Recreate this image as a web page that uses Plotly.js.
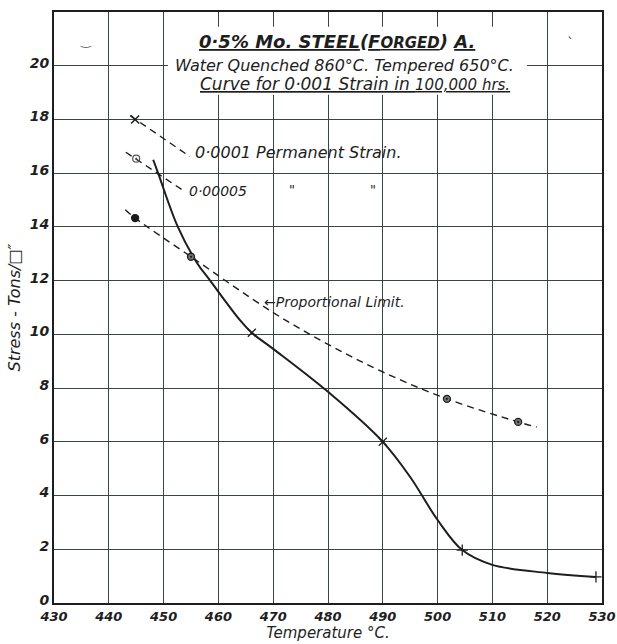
<!DOCTYPE html>
<html><head><meta charset="utf-8">
<script src="https://cdn.plot.ly/plotly-3.0.1.min.js"></script>
<style>html,body{margin:0;padding:0;background:#fff}#chart{width:617px;height:644px}</style>
</head><body><div id="chart"></div>
<script>
// Axis ticks
const xTicks = [430, 440, 450, 460, 470, 480, 490, 500, 510, 520, 530];
const yTicks = [0, 2, 4, 6, 8, 10, 12, 14, 16, 18, 20];

// Curve for 0.001 strain in 100,000 hrs (solid)
const creepTemp   = [448.1, 449.0, 452.6, 456.1, 458.5, 463.9, 466.1, 470.0, 480.0, 490.0, 495.0, 500.0, 504.5, 510.0, 520.0, 528.9];
const creepStress = [16.5, 16.0, 14.0, 12.66, 12.0, 10.54, 10.06, 9.46, 7.86, 6.0, 4.69, 3.09, 1.97, 1.42, 1.12, 0.97];
const creepMarkTemp   = [466.1, 490.0, 504.5, 528.9];
const creepMarkStress = [10.06, 6.0, 1.97, 0.97];

// Proportional limit (dashed)
const propTemp   = [443.0, 444.8, 455.0, 470.0, 480.0, 490.0, 501.7, 514.7, 518.1];
const propStress = [14.64, 14.33, 12.89, 10.81, 9.63, 8.6, 7.6, 6.74, 6.55];
const propMarkTemp   = [444.8, 455.0, 501.7, 514.7];
const propMarkStress = [14.33, 12.89, 7.6, 6.74];

// 0.0001 permanent strain (dashed)
const perm1Temp   = [443.9, 454.8];
const perm1Stress = [18.14, 16.62];
const perm1MarkTemp = [444.8];
const perm1MarkStress = [18.0];

// 0.00005 permanent strain (dashed)
const perm2Temp   = [443.1, 453.4];
const perm2Stress = [16.78, 15.38];
const perm2MarkTemp = [445.0];
const perm2MarkStress = [16.54];

const ink = '#1e1e1e';
const dashStyle = '7px,5px';
const FONT = 'DejaVu Sans';

const traces = [
  {x: creepTemp, y: creepStress, mode: 'lines', line: {color: ink, width: 2, shape: 'spline', smoothing: 1}, hoverinfo: 'skip'},
  {x: creepMarkTemp, y: creepMarkStress, mode: 'markers',
   marker: {symbol: ['x-thin', 'x-thin', 'cross-thin', 'cross-thin'], size: 8, color: ink, line: {color: ink, width: 1.3}}},
  {x: propTemp, y: propStress, mode: 'lines', line: {color: ink, width: 1.4, dash: dashStyle, shape: 'spline', smoothing: 1}},
  {x: propMarkTemp, y: propMarkStress, mode: 'markers',
   marker: {symbol: ['circle', 'circle-dot', 'circle-dot', 'circle-dot'], size: 7, color: ['#1a1a1a', '#777', '#777', '#777'], line: {color: ink, width: 1.3}}},
  {x: perm1Temp, y: perm1Stress, mode: 'lines', line: {color: ink, width: 1.4, dash: dashStyle}},
  {x: perm1MarkTemp, y: perm1MarkStress, mode: 'markers', marker: {symbol: 'x-thin', size: 8, color: ink, line: {color: ink, width: 1.5}}},
  {x: perm2Temp, y: perm2Stress, mode: 'lines', line: {color: ink, width: 1.4, dash: dashStyle}},
  {x: perm2MarkTemp, y: perm2MarkStress, mode: 'markers', marker: {symbol: 'circle-open-dot', size: 7, color: '#555', line: {color: '#555', width: 1.2}}}
];

const lab = (size) => ({family: FONT, size: size, color: ink, style: 'italic'});
const tickLab = (v) => '<b><i>' + v + '</i></b>';

const layout = {
  width: 617, height: 644,
  margin: {l: 54, r: 15, t: 12, b: 41},
  paper_bgcolor: '#fff', plot_bgcolor: '#fff',
  showlegend: false,
  xaxis: {
    range: [430, 530], tickvals: xTicks, ticktext: xTicks.map(tickLab),
    showgrid: true, gridcolor: '#3a4640', gridwidth: 1,
    showline: true, mirror: true, linecolor: ink, linewidth: 2,
    ticks: '', zeroline: false, tickfont: {family: FONT, size: 13, color: ink},
    ticklabelstandoff: 0,
    title: {text: 'Temperature °C.', font: lab(15), standoff: 3}
  },
  yaxis: {
    range: [0, 22.0], tickvals: yTicks, ticktext: yTicks.map(tickLab),
    showgrid: true, gridcolor: '#3a4640', gridwidth: 1,
    showline: true, mirror: true, linecolor: ink, linewidth: 2,
    ticks: '', zeroline: false, tickfont: {family: FONT, size: 14, color: ink},
    ticklabelshift: -3,
    title: {text: 'Stress - Tons/□″', font: lab(16), standoff: 5}
  },
  shapes: [
    {type: 'rect', xref: 'paper', yref: 'paper', x0: 0.208, x1: 0.863, y0: 0.86, y1: 0.975,
     fillcolor: '#fff', line: {width: 0}, layer: 'above'}
  ],
  annotations: [
    {xref: 'paper', yref: 'paper', x: 0.517, y: 0.950, xanchor: 'center', yanchor: 'middle', showarrow: false,
     text: '<b><u>0·5% Mo. STEEL</u>(<u>F<span style="font-size:15px">ORGED</span></u>) <u>A.</u></b>', font: lab(18)},
    {xref: 'paper', yref: 'paper', x: 0.531, y: 0.910, xanchor: 'center', yanchor: 'middle', showarrow: false,
     text: 'Water Quenched 860°C. Tempered 650°C.', font: lab(16)},
    {xref: 'paper', yref: 'paper', x: 0.549, y: 0.879, xanchor: 'center', yanchor: 'middle', showarrow: false,
     text: '<u>Curve for 0·001 Strain in <span style="font-size:15px">100,000 hrs.</span></u>', font: lab(17)},
    {xref: 'x', yref: 'y', x: 455.4, y: 16.76, xanchor: 'left', yanchor: 'middle', showarrow: false,
     text: '0·0001 Permanent Strain.', font: lab(16)},
    {xref: 'x', yref: 'y', x: 454.3, y: 15.34, xanchor: 'left', yanchor: 'middle', showarrow: false,
     text: '0·00005', font: lab(14)},
    {xref: 'x', yref: 'y', x: 473.4, y: 15.4, xanchor: 'center', yanchor: 'middle', showarrow: false,
     text: '"', font: lab(13)},
    {xref: 'x', yref: 'y', x: 488.2, y: 15.4, xanchor: 'center', yanchor: 'middle', showarrow: false,
     text: '"', font: lab(13)},
    {xref: 'x', yref: 'y', x: 467.9, y: 11.2, xanchor: 'left', yanchor: 'middle', showarrow: false,
     text: '←Proportional Limit.', font: lab(14)},
    {xref: 'paper', yref: 'paper', x: 0.058, y: 0.951, xanchor: 'center', yanchor: 'middle', showarrow: false,
     text: '‿', font: {family: FONT, size: 12, color: '#666'}},
    {xref: 'paper', yref: 'paper', x: 0.942, y: 0.948, xanchor: 'center', yanchor: 'middle', showarrow: false,
     text: 'ˋ', font: {family: FONT, size: 14, color: '#444'}}
  ]
};

Plotly.newPlot('chart', traces, layout, {staticPlot: true, displayModeBar: false});
</script>
</body></html>
